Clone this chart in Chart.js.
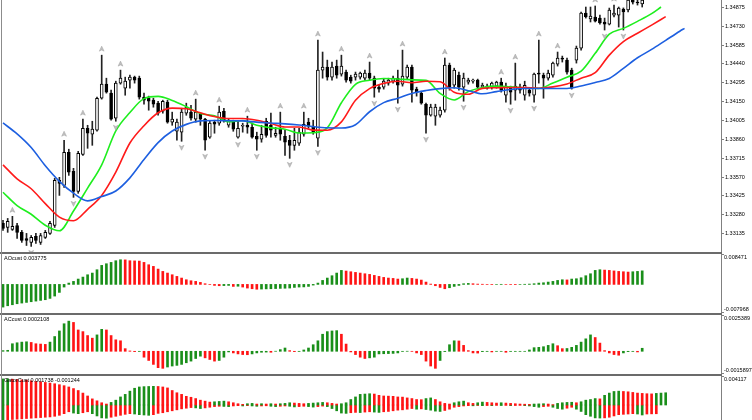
<!DOCTYPE html>
<html lang="en">
<head>
<meta charset="UTF-8">
<title>Alligator with AO, AC and Gator</title>
<script src="https://cdn.jsdelivr.net/npm/chart.js"></script>
<style>
  html, body { margin: 0; padding: 0; background: #fff; overflow: hidden; }
  #wrap { position: relative; width: 752px; height: 420px; overflow: hidden; }
  #wrap canvas { position: absolute; left: 0; }
  .sep { position: absolute; left: 0; width: 722px; height: 2px; background: #6b6b6b; }
  .edge { position: absolute; left: 1px; top: 0; width: 1px; height: 420px; background: #8c8c8c; }
</style>
</head>
<body>
<div id="wrap">
  <canvas id="main" width="752" height="252" style="top:0px"></canvas>
  <div class="sep" style="top:252px"></div>
  <canvas id="ao" width="752" height="59" style="top:254px"></canvas>
  <div class="sep" style="top:313px"></div>
  <canvas id="ac" width="752" height="59" style="top:315px"></canvas>
  <div class="sep" style="top:374px"></div>
  <canvas id="gator" width="752" height="58" style="top:376px"></canvas>
  <div class="edge"></div>
</div>

<script>
// --- price bars (one per bar index) ---
const opens = [1.33214,1.33183,1.33168,1.33198,1.33145,1.33098,1.33068,1.33114,1.33068,1.33106,
  1.33137,1.33198,1.33545,1.33506,1.33761,1.33614,1.33460,1.33745,1.33945,1.33899,
  1.33930,1.34176,1.34284,1.34215,1.34022,1.34292,1.34253,1.34315,1.34338,1.34330,
  1.34184,1.34176,1.34161,1.34138,1.34076,1.34146,1.33992,1.33922,1.33915,1.34061,
  1.34069,1.34015,1.34053,1.34015,1.33876,1.33992,1.33984,1.34076,1.33968,1.33992,
  1.33876,1.33961,1.33968,1.33953,1.33884,1.33861,1.33999,1.33968,1.33891,1.33945,
  1.33884,1.33853,1.33814,1.33830,1.33899,1.33992,1.33961,1.33868,1.34392,1.34415,
  1.34338,1.34423,1.34361,1.34377,1.34338,1.34338,1.34338,1.34330,1.34369,1.34330,
  1.34261,1.34261,1.34292,1.34307,1.34330,1.34284,1.34338,1.34415,1.34246,1.34215,
  1.34130,1.34045,1.34038,1.34045,1.34084,1.34431,1.34276,1.34353,1.34261,1.34300,
  1.34307,1.34315,1.34261,1.34253,1.34261,1.34269,1.34300,1.34199,1.34253,1.34238,
  1.34261,1.34199,1.34238,1.34199,1.34369,1.34353,1.34330,1.34353,1.34438,1.34485,
  1.34469,1.34392,1.34469,1.34561,1.34831,1.34785,1.34800,1.34792,1.34762,1.34746,
  1.34815,1.34815,1.34862,1.34854,1.34931,1.34915,1.34900];
const highs = [1.33237,1.33252,1.33268,1.33214,1.33160,1.33137,1.33121,1.33137,1.33137,1.33160,
  1.33229,1.33560,1.33568,1.33853,1.33784,1.33637,1.33768,1.34015,1.33968,1.33999,
  1.34184,1.34507,1.34330,1.34238,1.34307,1.34392,1.34338,1.34353,1.34346,1.34346,
  1.34215,1.34192,1.34176,1.34153,1.34161,1.34161,1.34069,1.34015,1.34099,1.34138,
  1.34122,1.34169,1.34061,1.34022,1.33999,1.34007,1.34115,1.34099,1.34015,1.34007,
  1.34007,1.33984,1.34038,1.33984,1.33915,1.33968,1.34022,1.34061,1.33953,1.34069,
  1.33930,1.33891,1.33945,1.33945,1.34069,1.34022,1.34007,1.34623,1.34531,1.34469,
  1.34454,1.34469,1.34507,1.34392,1.34353,1.34377,1.34377,1.34392,1.34454,1.34346,
  1.34276,1.34323,1.34330,1.34346,1.34392,1.34546,1.34431,1.34431,1.34261,1.34230,
  1.34138,1.34130,1.34130,1.34107,1.34485,1.34446,1.34407,1.34377,1.34369,1.34330,
  1.34323,1.34323,1.34292,1.34284,1.34300,1.34307,1.34330,1.34292,1.34269,1.34446,
  1.34284,1.34307,1.34253,1.34369,1.34623,1.34369,1.34392,1.34454,1.34531,1.34500,
  1.34485,1.34407,1.34577,1.34839,1.34877,1.34877,1.34885,1.34815,1.34792,1.34869,
  1.34892,1.34877,1.34870,1.34970,1.34954,1.34931,1.34962];
const lows = [1.33160,1.33145,1.33160,1.33098,1.33068,1.33044,1.33037,1.33060,1.33052,1.33098,
  1.33129,1.33183,1.33429,1.33491,1.33583,1.33414,1.33445,1.33737,1.33791,1.33814,
  1.33922,1.34169,1.34215,1.34007,1.33999,1.34284,1.34199,1.34253,1.34292,1.34169,
  1.34130,1.34084,1.34107,1.34045,1.34061,1.33984,1.33968,1.33853,1.33845,1.34045,
  1.34007,1.33992,1.33968,1.33776,1.33868,1.33907,1.33968,1.33992,1.33953,1.33922,
  1.33868,1.33915,1.33907,1.33868,1.33776,1.33838,1.33876,1.33876,1.33876,1.33853,
  1.33737,1.33714,1.33776,1.33814,1.33884,1.33945,1.33899,1.33806,1.34330,1.34315,
  1.34315,1.34330,1.34346,1.34300,1.34292,1.34315,1.34323,1.34315,1.34315,1.34184,
  1.34223,1.34246,1.34276,1.34292,1.34138,1.34269,1.34323,1.34146,1.34192,1.34130,
  1.33907,1.34038,1.33968,1.34030,1.34069,1.34238,1.34253,1.34238,1.34153,1.34284,
  1.34292,1.34246,1.34253,1.34246,1.34246,1.34253,1.34223,1.34146,1.34130,1.34161,
  1.34215,1.34161,1.34192,1.34146,1.34292,1.34176,1.34315,1.34338,1.34423,1.34454,
  1.34361,1.34246,1.34446,1.34546,1.34792,1.34762,1.34762,1.34746,1.34700,1.34739,
  1.34800,1.34723,1.34700,1.34839,1.34900,1.34892,1.34877];
const closes = [1.33175,1.33229,1.33191,1.33145,1.33083,1.33083,1.33106,1.33083,1.33121,1.33145,
  1.33214,1.33545,1.33522,1.33761,1.33607,1.33460,1.33753,1.33945,1.33907,1.33938,
  1.34176,1.34284,1.34223,1.34015,1.34292,1.34330,1.34307,1.34338,1.34315,1.34184,
  1.34161,1.34153,1.34130,1.34061,1.34153,1.33992,1.34015,1.33992,1.34069,1.34107,
  1.34022,1.34069,1.34015,1.33853,1.33984,1.33976,1.34069,1.34007,1.33999,1.33938,
  1.33945,1.33968,1.33953,1.33876,1.33861,1.33899,1.33891,1.33930,1.33907,1.33899,
  1.33838,1.33814,1.33853,1.33915,1.33976,1.33961,1.33915,1.34392,1.34415,1.34338,
  1.34415,1.34353,1.34423,1.34315,1.34307,1.34361,1.34369,1.34369,1.34330,1.34253,
  1.34246,1.34307,1.34315,1.34330,1.34276,1.34346,1.34415,1.34238,1.34223,1.34138,
  1.34045,1.34107,1.34107,1.34084,1.34431,1.34261,1.34392,1.34261,1.34330,1.34315,
  1.34315,1.34261,1.34276,1.34269,1.34292,1.34300,1.34238,1.34261,1.34223,1.34269,
  1.34238,1.34276,1.34215,1.34361,1.34361,1.34330,1.34369,1.34446,1.34485,1.34477,
  1.34377,1.34253,1.34561,1.34831,1.34800,1.34808,1.34769,1.34754,1.34746,1.34854,
  1.34831,1.34869,1.34839,1.34931,1.34915,1.34908,1.34931];

// bars carrying a fractal mark
const fractalUp = [2,13,17,21,25,41,46,52,59,64,67,72,78,85,94,106,109,114,118,126,130];
const fractalDown = [6,15,24,38,43,50,54,61,67,79,84,90,98,108,113,121,128,132];

// alligator lines, read at these bar indices (shifted lines run past the last bar)
const jawBars = [0,3,6,9,12,15,18,21,24,27,30,33,36,39,42,45,48,51,54,57,60,63,66,69,72,75,78,81,84,87,90,93,96,99,102,105,108,111,114,117,120,123,126,129,132,135,138,141,144,145];
const jawValues = [1.33986,1.33902,1.33797,1.33657,1.33537,1.33446,1.33387,1.33420,1.33463,1.33564,
  1.33705,1.33835,1.33924,1.33975,1.34002,1.34005,1.34003,1.34002,1.33992,1.33985,
  1.33979,1.33970,1.33958,1.33949,1.33947,1.33972,1.34072,1.34142,1.34176,1.34213,
  1.34235,1.34250,1.34256,1.34234,1.34210,1.34227,1.34243,1.34251,1.34251,1.34251,
  1.34251,1.34270,1.34297,1.34327,1.34405,1.34487,1.34551,1.34621,1.34691,1.34713];
const teethBars = [0,3,6,9,12,15,18,21,24,27,30,33,36,39,42,45,48,51,54,57,60,63,66,69,72,75,78,81,84,87,90,93,96,99,102,105,108,111,114,117,120,123,126,129,132,135,138,141];
const teethValues = [1.33664,1.33556,1.33480,1.33366,1.33262,1.33234,1.33322,1.33429,1.33608,1.33832,
  1.33965,1.34064,1.34100,1.34095,1.34064,1.34035,1.34020,1.34020,1.34007,1.33981,
  1.33955,1.33955,1.33931,1.33930,1.33994,1.34160,1.34250,1.34290,1.34307,1.34295,
  1.34307,1.34302,1.34222,1.34206,1.34252,1.34257,1.34259,1.34258,1.34253,1.34263,
  1.34286,1.34330,1.34372,1.34507,1.34611,1.34675,1.34738,1.34803];
const lipsBars = [0,3,6,9,12,15,18,21,24,27,30,33,36,39,42,45,48,51,54,57,60,63,66,69,72,75,78,81,84,87,90,93,96,99,102,105,108,111,114,117,120,123,126,129,132,135,138,140];
const lipsValues = [1.33453,1.33351,1.33284,1.33200,1.33157,1.33309,1.33485,1.33664,1.33925,1.34066,
  1.34173,1.34190,1.34159,1.34111,1.34058,1.34042,1.33995,1.34005,1.33968,1.33948,
  1.33938,1.33909,1.33911,1.33948,1.34141,1.34283,1.34314,1.34328,1.34324,1.34317,
  1.34313,1.34213,1.34162,1.34227,1.34259,1.34269,1.34263,1.34257,1.34252,1.34293,
  1.34338,1.34384,1.34521,1.34668,1.34713,1.34767,1.34826,1.34877];

const priceTicks = [1.33135,1.33280,1.33425,1.33570,1.33715,1.33860,1.34005,1.34150,1.34295,1.34440,1.34585,1.34730,1.34875];
const priceRange = [1.32994, 1.34931];

// --- sub-window indicators ---
const aoValues = [-0.00632,-0.00595,-0.00567,-0.00539,-0.00520,-0.00502,-0.00483,-0.00465,-0.00446,-0.00427,
  -0.00390,-0.00325,-0.00223,-0.00074,0.00037,0.00084,0.00149,0.00204,0.00269,0.00316,
  0.00409,0.00530,0.00576,0.00613,0.00660,0.00687,0.00683,0.00660,0.00655,0.00650,
  0.00613,0.00548,0.00502,0.00427,0.00362,0.00316,0.00269,0.00223,0.00177,0.00130,
  0.00102,0.00084,0.00056,0.00019,-0.00002,-0.00028,-0.00037,-0.00033,-0.00028,-0.00056,
  -0.00051,-0.00074,-0.00102,-0.00121,-0.00135,-0.00130,-0.00125,-0.00121,-0.00116,-0.00111,
  -0.00107,-0.00102,-0.00084,-0.00074,-0.00070,-0.00056,-0.00019,0.00037,0.00111,0.00177,
  0.00242,0.00316,0.00390,0.00372,0.00353,0.00334,0.00316,0.00297,0.00279,0.00251,
  0.00223,0.00195,0.00177,0.00167,0.00149,0.00158,0.00177,0.00167,0.00149,0.00121,
  0.00065,0.00009,-0.00037,-0.00084,-0.00121,-0.00093,-0.00056,-0.00028,0.00019,0.00028,
  0.00019,0.00009,0.00005,0.00001,-0.00003,0.00000,0.00003,0.00000,-0.00002,-0.00004,
  0.00000,0.00004,0.00009,0.00019,0.00037,0.00046,0.00065,0.00084,0.00111,0.00130,
  0.00125,0.00149,0.00158,0.00186,0.00242,0.00297,0.00390,0.00409,0.00399,0.00390,
  0.00376,0.00362,0.00353,0.00344,0.00353,0.00362,0.003775];
const acValues = [0.000046,0.000069,0.000528,0.000596,0.000642,0.000665,0.000619,0.000528,0.000505,0.000482,
  0.000642,0.001032,0.001422,0.001927,0.002110,0.002019,0.001491,0.001376,0.001101,0.000918,
  0.001147,0.001537,0.001491,0.001101,0.000803,0.000734,0.000184,0.000023,-0.000023,-0.000011,
  -0.000413,-0.000642,-0.000918,-0.001147,-0.001193,-0.001101,-0.001032,-0.000986,-0.000918,-0.000803,
  -0.000688,-0.000505,-0.000344,-0.000459,-0.000574,-0.000688,-0.000642,-0.000413,-0.000046,-0.000115,
  -0.000184,-0.000229,-0.000241,-0.000184,-0.000115,-0.000069,-0.000057,-0.000069,0.000005,0.000115,
  0.000229,0.000046,-0.000023,-0.000011,0.000092,0.000229,0.000459,0.000734,0.001193,0.001376,
  0.001422,0.001445,0.001193,0.000505,-0.000046,-0.000229,-0.000413,-0.000505,-0.000459,-0.000413,
  -0.000184,-0.000172,-0.000161,-0.000149,-0.000115,-0.000011,0.000004,-0.000007,-0.000115,-0.000229,
  -0.000688,-0.001032,-0.001193,-0.000642,-0.000020,0.000459,0.000734,0.000723,0.000413,0.000046,
  -0.000115,-0.000126,-0.000023,-0.000011,-0.000046,-0.000007,-0.000005,-0.000069,-0.000011,-0.000009,
  -0.000007,-0.000005,0.000092,0.000252,0.000275,0.000321,0.000413,0.000528,0.000390,0.000184,
  0.000195,0.000275,0.000413,0.000642,0.000872,0.001147,0.000963,0.000574,0.000046,-0.000115,
  -0.000229,-0.000275,-0.000115,-0.000023,-0.000011,-0.000046,0.0002108];
const gatorUp = [0.003705,0.003720,0.003659,0.003613,0.003568,0.003522,0.003431,0.003339,0.003293,0.003202,
  0.003110,0.003019,0.002882,0.002744,0.002561,0.002333,0.002058,0.001692,0.001281,0.000869,
  0.000595,0.000320,0.000137,0.000366,0.000686,0.001144,0.001509,0.001967,0.002378,0.002561,
  0.002607,0.002630,0.002653,0.002630,0.002561,0.002424,0.002058,0.001738,0.001509,0.001235,
  0.001098,0.000915,0.000686,0.000549,0.000412,0.000457,0.000503,0.000549,0.000457,0.000320,
  0.000183,0.000091,0.000183,0.000229,0.000137,0.000183,0.000137,0.000183,0.000137,0.000183,
  0.000229,0.000320,0.000274,0.000229,0.000183,0.000229,0.000274,0.000320,0.000366,0.000320,
  0.000229,0.000137,0.000183,0.000320,0.000778,0.001144,0.001509,0.001555,0.001601,0.001555,
  0.001372,0.001281,0.001258,0.001235,0.001144,0.001121,0.001006,0.000915,0.000778,0.000755,
  0.000915,0.001006,0.000778,0.000457,0.000229,0.000137,0.000320,0.000457,0.000549,0.000320,
  0.000229,0.000320,0.000412,0.000366,0.000320,0.000274,0.000320,0.000274,0.000229,0.000183,
  0.000137,0.000114,0.000091,0.000137,0.000160,0.000183,0.000137,0.000046,0.000229,0.000320,
  0.000366,0.000389,0.000320,0.000457,0.000686,0.000778,0.000915,0.000869,0.001372,0.001692,
  0.001921,0.001967,0.001921,0.001875,0.001784,0.001692,0.001647,0.001601,0.001578,0.001647,
  0.001692,0.001738];
const gatorDown = [-0.002150,-0.002104,-0.002058,-0.002013,-0.001967,-0.001921,-0.001875,-0.001830,-0.001784,-0.001738,
  -0.001692,-0.001601,-0.001464,-0.001235,-0.000961,-0.001144,-0.001235,-0.001098,-0.000961,-0.001235,
  -0.001555,-0.001830,-0.001875,-0.001738,-0.001601,-0.001464,-0.001326,-0.001235,-0.001281,-0.001372,
  -0.001418,-0.001464,-0.001372,-0.001189,-0.001098,-0.000961,-0.000823,-0.000686,-0.000549,-0.000457,
  -0.000366,-0.000412,-0.000503,-0.000412,-0.000320,-0.000229,-0.000183,-0.000206,-0.000229,-0.000137,
  -0.000091,-0.000137,-0.000091,-0.000137,-0.000183,-0.000137,-0.000114,-0.000183,-0.000229,-0.000183,
  -0.000137,-0.000183,-0.000274,-0.000229,-0.000183,-0.000229,-0.000297,-0.000229,-0.000160,-0.000229,
  -0.000503,-0.000823,-0.001144,-0.001189,-0.001098,-0.001052,-0.001075,-0.001006,-0.000961,-0.001006,
  -0.001052,-0.000961,-0.000915,-0.000823,-0.000732,-0.000686,-0.000595,-0.000503,-0.000595,-0.000549,
  -0.000640,-0.000732,-0.000869,-0.000915,-0.000778,-0.000595,-0.000320,-0.000229,-0.000137,-0.000091,
  -0.000114,-0.000069,-0.000091,-0.000069,-0.000091,-0.000046,-0.000069,-0.000046,-0.000091,-0.000069,
  -0.000046,-0.000091,-0.000137,-0.000229,-0.000320,-0.000229,-0.000183,-0.000320,-0.000503,-0.000595,
  -0.000457,-0.000320,-0.000595,-0.000915,-0.001372,-0.001601,-0.001830,-0.001853,-0.001830,-0.001738,
  -0.001555,-0.001372,-0.001326,-0.001281,-0.001235,-0.001281,-0.001418,-0.001281,-0.001258,-0.001244];

const aoRange = [-0.007968, 0.008471];
const acRange = [-0.0015897, 0.0025389];
const gatorRange = [-0.004117, 0.004117];

// --- shared look ---
const FONT = '"Liberation Sans", Arial, sans-serif';
const UP = '#1a8f1a', DOWN = '#ff1414';
const AXIS = '#808080';
Chart.defaults.font.family = FONT;
Chart.defaults.color = '#000';

// bar i sits at 3 + 4.7*i px inside a 721 px wide plot
const xMin = -3 / 4.7, xMax = (721 - 3) / 4.7;

function baseScales(range) {
    return {
        x: { type: 'linear', min: xMin, max: xMax, offset: false, bounds: 'data', display: false },
        y: {
            position: 'right', min: range[0], max: range[1],
            grid: { display: false },
            border: { display: true, color: AXIS, width: 1 },
            ticks: { display: false },
            afterFit: s => { s.width = 31; s.paddingTop = 0; s.paddingBottom = 0; }
        }
    };
}

const baseOptions = (range) => ({
    responsive: false,
    animation: false,
    layout: { padding: 0 },
    plugins: { legend: { display: false }, tooltip: { enabled: false } },
    scales: baseScales(range)
});

// fractal arrows over highs / under lows
const fractalMarks = {
    id: 'fractalMarks',
    afterDatasetsDraw(chart) {
        const { ctx, chartArea: a, scales: { x, y } } = chart;
        ctx.save();
        ctx.beginPath();
        ctx.rect(a.left, a.top, a.right - a.left, a.bottom - a.top);
        ctx.clip();
        ctx.fillStyle = '#c0c0c0';
        ctx.strokeStyle = '#a0a0a0';
        ctx.lineWidth = 0.5;
        const arrow = (px, py, dir) => {
            ctx.beginPath();
            ctx.moveTo(px, py - 3 * dir);
            ctx.lineTo(px + 2.4, py + 2 * dir);
            ctx.lineTo(px, py + 0.8 * dir);
            ctx.lineTo(px - 2.4, py + 2 * dir);
            ctx.closePath();
            ctx.fill();
            ctx.stroke();
        };
        fractalUp.forEach(i => arrow(x.getPixelForValue(i), y.getPixelForValue(highs[i]) - 6, 1));
        fractalDown.forEach(i => arrow(x.getPixelForValue(i), y.getPixelForValue(lows[i]) + 6, -1));
        ctx.restore();
    }
};

// indicator name in the corner and the range labels at the right
const panelText = {
    id: 'panelText',
    afterDraw(chart, args, opts) {
        if (!opts.title) return;
        const { ctx, chartArea: a, scales: { y } } = chart;
        ctx.save();
        ctx.font = '5.5px ' + FONT;
        ctx.fillStyle = '#000';
        ctx.textBaseline = 'top';
        ctx.fillText(opts.title, a.left + 4, a.top + 2);
        ctx.strokeStyle = AXIS;
        ctx.lineWidth = 1;
        const top = y.getPixelForValue(y.max), bottom = y.getPixelForValue(y.min);
        ctx.beginPath();
        ctx.moveTo(a.right, top + 0.5); ctx.lineTo(a.right + 3, top + 0.5);
        ctx.moveTo(a.right, bottom - 0.5); ctx.lineTo(a.right + 3, bottom - 0.5);
        ctx.stroke();
        ctx.fillText(String(y.max), a.right + 3, top + 1);
        ctx.textBaseline = 'bottom';
        ctx.fillText(String(y.min), a.right + 3, bottom - 0.5);
        ctx.restore();
    }
};

// --- main price window ---
const idx = opens.map((_, i) => i);
const isUp = i => closes[i] > opens[i];
const lineSet = (bars, vals, color) => ({
    type: 'line',
    data: bars.map((b, k) => ({ x: b, y: vals[k] })),
    borderColor: color, borderWidth: 1.6, pointRadius: 0,
    cubicInterpolationMode: 'monotone', order: 0
});

const mainOpts = baseOptions(priceRange);
mainOpts.scales.y.ticks = {
    display: true, autoSkip: false, padding: 1,
    font: { size: 5.5, family: FONT }, color: '#000',
    callback: v => v.toFixed(5)
};
mainOpts.scales.y.grid = { display: true, drawOnChartArea: false, drawTicks: true, tickLength: 3, color: AXIS };
mainOpts.scales.y.afterBuildTicks = s => { s.ticks = priceTicks.map(v => ({ value: v })); };

new Chart(document.getElementById('main'), {
    type: 'bar',
    data: {
        datasets: [
            lineSet(jawBars, jawValues, '#1d5fe0'),
            lineSet(teethBars, teethValues, '#ff1a1a'),
            lineSet(lipsBars, lipsValues, '#1eee1e'),
            {
                label: 'body',
                data: idx.map(i => ({ x: i, y: [opens[i], closes[i]] })),
                backgroundColor: idx.map(i => isUp(i) ? '#ffffff' : '#000000'),
                borderColor: '#000', borderWidth: 1, borderSkipped: false,
                barThickness: 3, maxBarThickness: 3, grouped: false, order: 1
            },
            {
                label: 'wick',
                data: idx.map(i => ({ x: i, y: [lows[i], highs[i]] })),
                backgroundColor: '#222', borderWidth: 0,
                barThickness: 1, maxBarThickness: 1, grouped: false, order: 2
            }
        ]
    },
    options: mainOpts,
    plugins: [fractalMarks]
});

// --- histogram windows ---
function histogram(id, range, title, sets) {
    const opts = baseOptions(range);
    opts.plugins.panelText = { title };
    new Chart(document.getElementById(id), {
        type: 'bar',
        data: { datasets: sets },
        options: opts,
        plugins: [panelText]
    });
}

const risingColors = vals => vals.map((v, i) => (i === 0 || v > vals[i - 1]) ? UP : DOWN);
const histSet = (vals, colors) => ({
    data: vals.map((v, i) => ({ x: i, y: v })),
    backgroundColor: colors, borderWidth: 0,
    barThickness: 2, maxBarThickness: 2, grouped: false
});

histogram('ao', aoRange, 'AOcust ' + aoValues[aoValues.length - 1],
    [histSet(aoValues, risingColors(aoValues))]);

histogram('ac', acRange, 'ACcust ' + acValues[acValues.length - 1],
    [histSet(acValues, risingColors(acValues))]);

const downColors = gatorDown.map((v, i) => (i === 0 || Math.abs(v) > Math.abs(gatorDown[i - 1])) ? UP : DOWN);
histogram('gator', gatorRange,
    'GatorCust ' + gatorUp[gatorUp.length - 1] + ' ' + gatorDown[gatorDown.length - 1],
    [histSet(gatorUp, risingColors(gatorUp)), histSet(gatorDown, downColors)]);
</script>
</body>
</html>
